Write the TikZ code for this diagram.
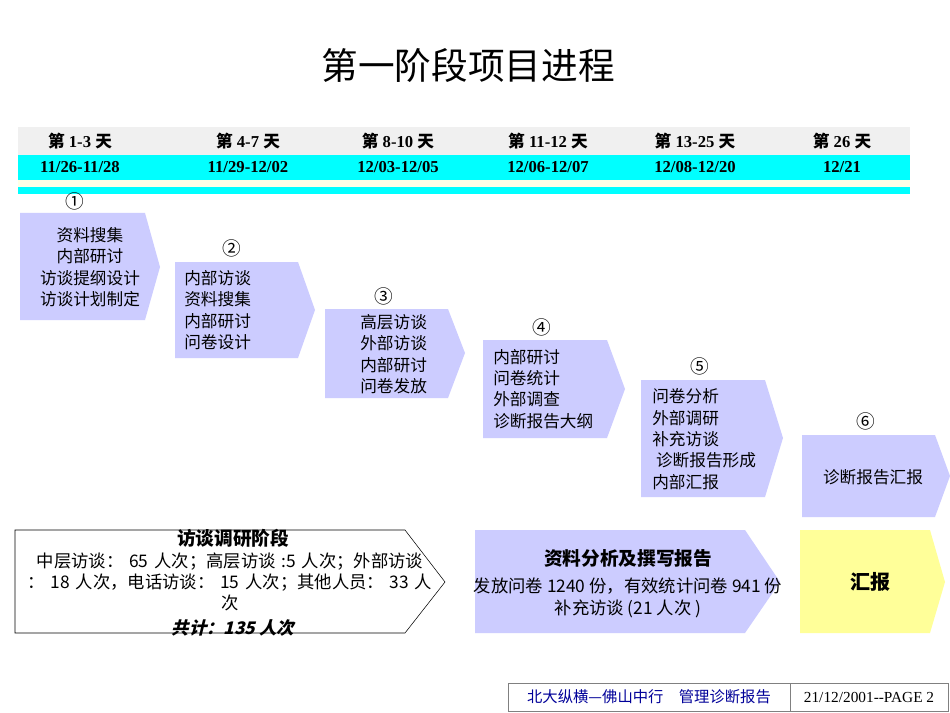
\documentclass[tikz,border=0pt]{standalone}
\usepackage{fontspec}
\setmainfont{Liberation Serif}
\newfontfamily\cjk{Noto Sans CJK SC}
\newfontfamily\cjkit[FakeSlant=0.25]{Noto Sans CJK SC}
\begin{document}
\begin{tikzpicture}[x=0.75pt,y=-0.75pt,
  stage/.style={fill=lav,draw=none},
  txt/.style={font=\cjk\fontsize{12.5}{16}\selectfont,align=left,inner sep=0},
  hd/.style={font=\bfseries\fontsize{12.5}{14}\selectfont,inner sep=0},
  num/.style={font=\cjk\fontsize{14}{14}\selectfont,inner sep=0}]
\definecolor{lav}{RGB}{204,204,255}
\definecolor{cy}{RGB}{0,255,255}
\definecolor{cream}{RGB}{255,255,230}
\definecolor{yel}{RGB}{255,255,153}
\definecolor{navy}{RGB}{0,0,153}
\useasboundingbox (0,0) rectangle (950,713);
\fill[white] (0,0) rectangle (950,713);
\node[font=\cjk\fontsize{27.5}{30}\selectfont] (title) at (468,66) {第一阶段项目进程};
% header bands
\fill[gray!12] (18,127) rectangle (910,155);
\fill[cy] (18,155) rectangle (910,180);
\fill[cream] (18,180) rectangle (910,187);
\fill[cy] (18,187) rectangle (910,194);
\foreach \x/\a/\b in {80/1-3/11\slash 26-11\slash 28, 248/4-7/11\slash 29-12\slash 02, 398/8-10/12\slash 03-12\slash 05, 548/11-12/12\slash 06-12\slash 07, 695/13-25/12\slash 08-12\slash 20, 842/26/12\slash 21}{
  \node[hd] at (\x,141) {{\cjk\bfseries 第} \a{} {\cjk\bfseries 天}};
  \node[hd] at (\x,167) {\b};
}
% stage arrows
\fill[stage] (20,213) -- (145,213) -- (160,267) -- (145,320) -- (20,320) -- cycle;
\fill[stage] (175,262) -- (298,262) -- (315,310) -- (298,358) -- (175,358) -- cycle;
\fill[stage] (325,309) -- (448,309) -- (465,353) -- (448,398) -- (325,398) -- cycle;
\fill[stage] (483,340) -- (607,340) -- (625,389) -- (607,438) -- (483,438) -- cycle;
\fill[stage] (641,380) -- (765,380) -- (783,438) -- (765,497) -- (641,497) -- cycle;
\fill[stage] (802,435) -- (935,435) -- (950,476) -- (935,517) -- (802,517) -- cycle;
\node[num] (n1) at (75,201) {①};
\node[num] (n2) at (232,248) {②};
\node[num] (n3) at (384,296) {③};
\node[num] (n4) at (542,327) {④};
\node[num] (n5) at (700,366) {⑤};
\node[num] (n6) at (866,421) {⑥};
\node[txt,align=center] (t1) at (90,267) {资料搜集\\内部研讨\\访谈提纲设计\\访谈计划制定};
\node[txt,anchor=west] (t2) at (184,310) {内部访谈\\资料搜集\\内部研讨\\问卷设计};
\node[txt,anchor=west] (t3) at (360,354) {高层访谈\\外部访谈\\内部研讨\\问卷发放};
\node[txt,anchor=west] (t4) at (493,389) {内部研讨\\问卷统计\\外部调查\\诊断报告大纲};
\node[txt,anchor=west] (t5) at (652,439) {问卷分析\\外部调研\\补充访谈\\\ 诊断报告形成\\内部汇报};
\node[txt] (t6) at (873,477) {诊断报告汇报};
% bottom
\draw[black,fill=white] (15,530) -- (405,530) -- (445,582) -- (405,633) -- (15,633) -- cycle;
\node[font=\cjk\bfseries\fontsize{14}{16}\selectfont] (b1h) at (233,538) {访谈调研阶段};
\node[txt,align=center,text width=430,font=\cjk\fontsize{13}{16}\selectfont] (b1t) at (230,582) {中层访谈：~65~人次；高层访谈~:5~人次；外部访谈\\：~18~人次，电话访谈：~15~人次；其他人员：~33~人\\次};
\node[font=\cjkit\bfseries\fontsize{13}{15}\selectfont] (b1f) at (233,628) {共计：135~人次};
\fill[lav] (475,530) -- (745,530) -- (780,582) -- (745,633) -- (475,633) -- cycle;
\node[font=\cjk\bfseries\fontsize{14}{16}\selectfont] (b2h) at (628,558) {资料分析及撰写报告};
\node[txt,align=center,font=\cjk\fontsize{13}{16}\selectfont] (b2t) at (628,598) {发放问卷~1240~份，有效统计问卷~941~份\\补充访谈~(21~人次~)};
\fill[yel] (800,530) -- (930,530) -- (945,582) -- (930,633) -- (800,633) -- cycle;
\node[font=\cjk\bfseries\fontsize{15}{17}\selectfont] (b3) at (870,582) {汇报};
% footer
\draw[gray] (508,683) rectangle (790,711);
\draw[gray] (790,683) rectangle (948,711);
\node[font=\cjk\fontsize{11.5}{13}\selectfont,text=navy] (f1) at (649,697) {北大纵横—佛山中行\quad 管理诊断报告};
\node[font=\fontsize{11.5}{13}\selectfont] (f2) at (869,697) {21/12/2001-{}-PAGE 2};
\end{tikzpicture}
\end{document}
